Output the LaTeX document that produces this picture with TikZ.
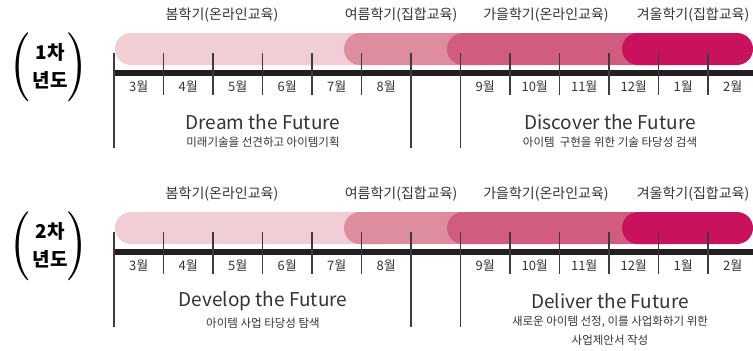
\documentclass[tikz,border=0pt]{standalone}
\usepackage{fontspec}
\setmainfont{Noto Sans CJK KR}
\usetikzlibrary{positioning}
\definecolor{springpink}{HTML}{F1CDD6}
\definecolor{summerpink}{HTML}{DE8D9F}
\definecolor{autumnpink}{HTML}{D05C80}
\definecolor{winterpink}{HTML}{C8125E}
\definecolor{axisblack}{HTML}{231F20}
\definecolor{tickgray}{HTML}{3C3C3C}
\definecolor{textgray}{HTML}{333333}
\tikzset{
  season/.style={fill=#1, draw=none, rounded corners=16pt},
  semlabel/.style={font=\fontsize{14}{15}\selectfont, text=textgray, inner sep=0pt},
  monthlabel/.style={font=\fontsize{13}{15}\selectfont, text=textgray, inner sep=0pt},
  monthtick/.style={draw=tickgray, line width=1.6pt},
  phasetitle/.style={font=\fontsize{19}{20}\selectfont, text=textgray, inner sep=0pt},
  phasenote/.style={font=\fontsize{11.5}{19}\selectfont, text=textgray, inner sep=0pt, align=center, anchor=north},
  yearlabel/.style={font=\fontsize{19}{28}\selectfont\bfseries, text=black, inner sep=0pt, align=center},
  bracket/.style={inner sep=0pt, text=black}
}
\begin{document}
\begin{tikzpicture}[x=1pt, y=-1pt]
    \useasboundingbox (0,0) rectangle (753,351);
    \foreach \r/\yr/\ta/\sa/\tb/\sb in {0/1/Dream the Future/{미래기술을 선견하고 아이템기획}/Discover the Future/{아이템\ \ 구현을 위한 기술 타당성 검색},
        1/2/Develop the Future/{아이템 사업 타당성 탐색}/Deliver the Future/{새로운 아이템 선정, 이를 사업화하기 위한\\사업제안서 작성}}{
    \begin{scope}[yshift={-\r*179pt}]
        % seasons
        \path[season=springpink] (115,33) rectangle (400,65);
        \path[season=summerpink] (344,33) rectangle (500,65);
        \path[season=autumnpink] (447,33) rectangle (680,65);
        \path[season=winterpink] (622,33) rectangle (753,65);
        \node[semlabel] (spring\yr) at (222,15) {봄학기(온라인교육)};
        \node[semlabel] (summer\yr) at (401,15) {여름학기(집합교육)};
        \node[semlabel] (autumn\yr) at (546,15) {가을학기(온라인교육)};
        \node[semlabel] (winter\yr) at (693,15) {겨울학기(집합교육)};
        % axis and ticks
        \draw[axisblack, line width=6pt] (113,73) -- (753,73);
        \foreach \i in {1,...,5,8,9,...,12}
            \draw[monthtick] (114+49.5*\i,53) -- ++(0,42);
        \foreach \i in {0,6,7}
            \draw[monthtick] (114+49.5*\i,53) -- (114+49.5*\i,148);
        \foreach \i/\m in {0/3,1/4,2/5,3/6,4/7,5/8,7/9,8/10,9/11,10/12,11/1,12/2}
            \node[monthlabel] (m\yr-\i) at (138.75+49.5*\i,87) {\m{}월};
        % phases
        \node[phasetitle] (first\yr) at (263,122) {\ta};
        \node[phasenote, below=7pt of first\yr] {\sa};
        \node[phasetitle] (second\yr) at (610,122) {\tb};
        \node[phasenote, below=7pt of second\yr] {\sb};
        % year
        \node[yearlabel] (year\yr) at (50,66) {\yr{}차\\년도};
        \node[bracket] (open\yr) at (21,67) {\scalebox{5.5}[6.9]{$($}};
        \node[bracket] (close\yr) at (76,67) {\scalebox{5.5}[6.9]{$)$}};
    \end{scope}
    }
\end{tikzpicture}
\end{document}
